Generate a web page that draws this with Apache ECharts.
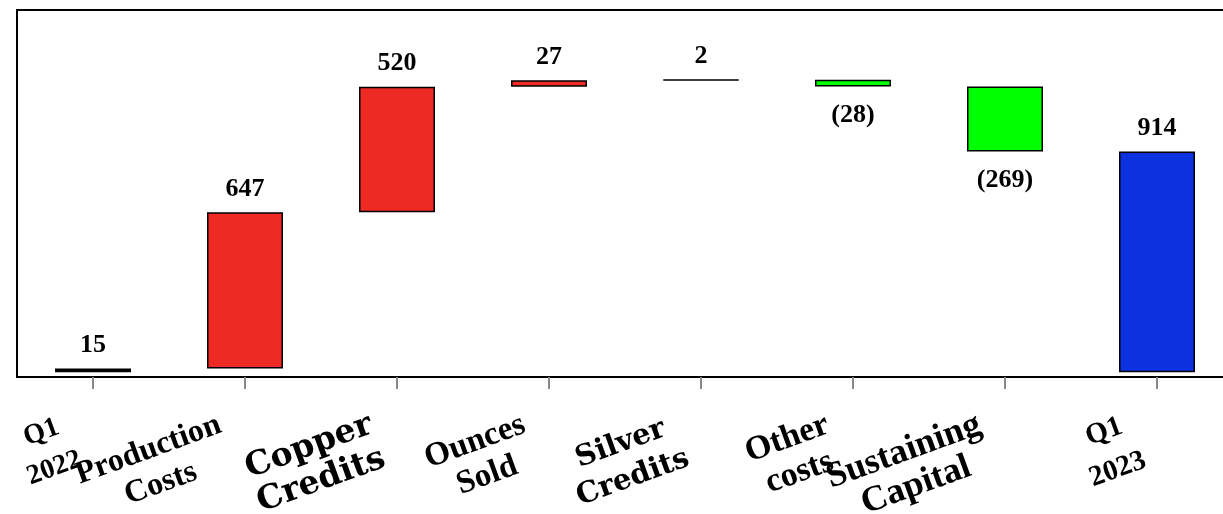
<!DOCTYPE html>
<html>
<head>
<meta charset="utf-8">
<script src="https://cdn.jsdelivr.net/npm/echarts@6/dist/echarts.min.js"></script>
<style>
html,body{margin:0;padding:0;background:#fff;overflow:hidden;}
#chart{width:1240px;height:514px;}
</style>
</head>
<body>
<div id="chart"></div>
<script>
const categories = ['Q1\n2022', 'Production\nCosts', 'Copper\nCredits', 'Ounces\nSold', 'Silver\nCredits', 'Other\ncosts', 'Sustaining\nCapital', 'Q1\n2023'];
const startValue = 15;
const changes = [647, 520, 27, 2, -28, -269];
const endValue = 914;

const colors = { start: '#000000', up: '#EE2A24', down: '#00FF00', end: '#0C32E0' };

// build waterfall
const baseData = [];
const barData = [];
let running = 0;
baseData.push(0);
barData.push({ value: startValue, itemStyle: { color: colors.start, borderWidth: 2.5 }, label: { position: 'top' }, shown: startValue });
running = startValue;
changes.forEach(function (c) {
  if (c >= 0) {
    baseData.push(running);
    barData.push({ value: c, itemStyle: { color: colors.up }, label: { position: 'top', distance: 10 }, shown: c });
  } else {
    baseData.push(running + c);
    barData.push({ value: -c, itemStyle: { color: colors.down }, label: { position: 'bottom', distance: 16 }, shown: c });
  }
  running += c;
});
baseData.push(0);
barData.push({ value: endValue, itemStyle: { color: colors.end }, label: { position: 'top' }, shown: endValue });

const serif = '"Liberation Serif", "Times New Roman", serif';
const wide = '"DejaVu Serif", serif';
const labelStyles = [
  { fontSize: 28, fontFamily: serif, lineHeight: 38 },
  { fontSize: 32, fontFamily: serif, lineHeight: 36 },
  { fontSize: 33, fontFamily: wide, lineHeight: 36 },
  { fontSize: 33, fontFamily: serif, lineHeight: 36 },
  { fontSize: 29, fontFamily: wide, lineHeight: 36 },
  { fontSize: 34, fontFamily: serif, lineHeight: 36 },
  { fontSize: 36, fontFamily: serif, lineHeight: 36 },
  { fontSize: 29, fontFamily: serif, lineHeight: 40 }
];
const rich = {};
labelStyles.forEach(function (s, i) {
  rich['s' + i] = Object.assign({ fontWeight: 'bold', color: '#000', align: 'center' }, s);
});

const chart = echarts.init(document.getElementById('chart'), null, { renderer: 'canvas' });
chart.setOption({
  animation: false,
  backgroundColor: '#fff',
  grid: { left: 17, top: 10, width: 1216, height: 367, outerBoundsMode: 'none', containLabel: false, show: true, borderColor: '#000', borderWidth: 2, backgroundColor: 'transparent' },
  xAxis: {
    type: 'category',
    data: categories,
    axisLine: { show: true, onZero: false, lineStyle: { color: '#000', width: 2 } },
    axisTick: { show: true, alignWithLabel: true, length: 12, lineStyle: { color: '#888', width: 2 } },
    axisLabel: {
      interval: 0,
      rotate: 20,
      margin: 57,
      padding: [0, 20, 0, 0],
      formatter: function (v, idx) {
        return v.split('\n').map(function (l) { return '{s' + idx + '|' + l + '}'; }).join('\n');
      },
      rich: rich
    }
  },
  yAxis: {
    type: 'value',
    min: -20,
    max: 1500,
    axisLine: { show: false },
    axisTick: { show: false },
    axisLabel: { show: false },
    splitLine: { show: false }
  },
  series: [
    {
      type: 'bar',
      stack: 'wf',
      data: baseData,
      itemStyle: { color: 'transparent' },
      barWidth: '50%',
      silent: true
    },
    {
      type: 'bar',
      stack: 'wf',
      data: barData,
      barWidth: '50%',
      itemStyle: { borderColor: '#000', borderWidth: 1.5 },
      label: {
        show: true,
        distance: 10,
        fontFamily: serif,
        fontWeight: 'bold',
        fontSize: 26,
        color: '#000',
        formatter: function (p) {
          const v = barData[p.dataIndex].shown;
          return v < 0 ? '(' + (-v) + ')' : String(v);
        }
      }
    }
  ]
});
</script>
</body>
</html>
